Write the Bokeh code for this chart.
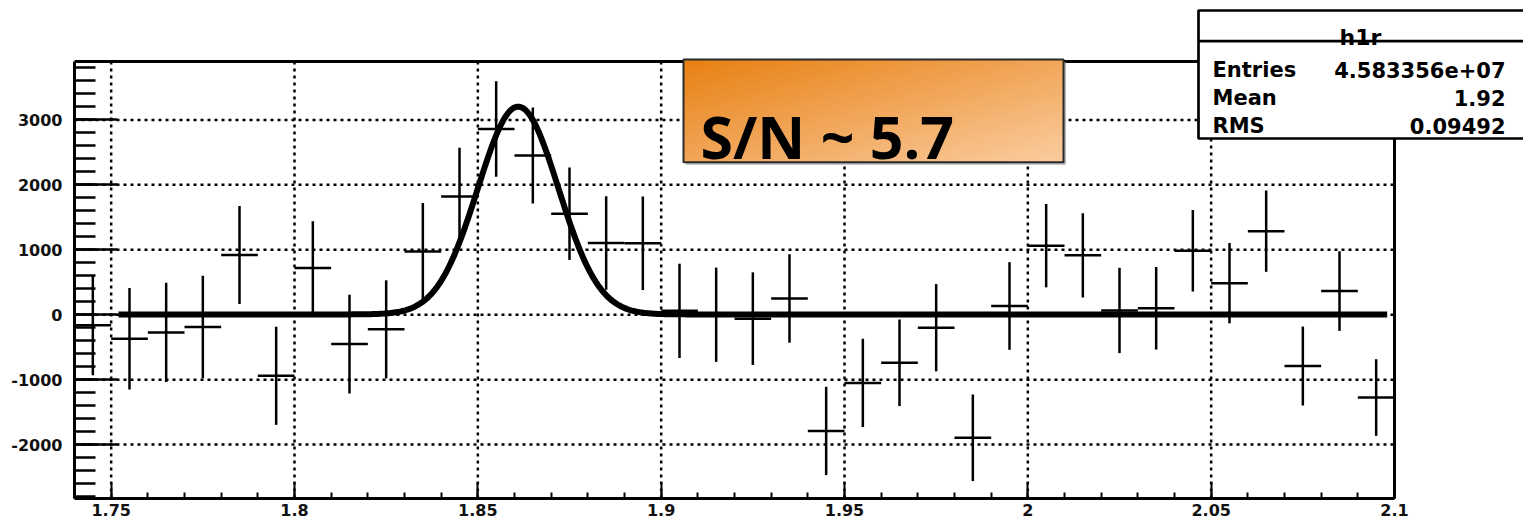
import numpy as np
from bokeh.plotting import figure
from bokeh.models import Range1d, LinearAxis, FixedTicker, ColumnDataSource
from bokeh.core.properties import value
from bokeh.embed import file_html
from bokeh.resources import INLINE

# ---------------- data ----------------
bin_centers = [1.745, 1.755, 1.765, 1.775, 1.785, 1.795, 1.805, 1.815, 1.825, 1.835,
               1.845, 1.855, 1.865, 1.875, 1.885, 1.895, 1.905, 1.915, 1.925, 1.935,
               1.945, 1.955, 1.965, 1.975, 1.985, 1.995, 2.005, 2.015, 2.025, 2.035,
               2.045, 2.055, 2.065, 2.075, 2.085, 2.095]
counts = [-160, -370, -272, -190, 920, -940, 720, -452, -225, 975,
          1820, 2860, 2453, 1556, 1105, 1100, 60, 0, -60, 250,
          -1790, -1050, -740, -200, -1895, 135, 1063, 915, 66, 100,
          985, 485, 1287, -790, 365, -1275]
errors = [770, 780, 765, 790, 756, 756, 720, 761, 755, 745,
          750, 735, 738, 712, 720, 720, 726, 726, 713, 680,
          680, 680, 667, 672, 667, 675, 641, 649, 657, 636,
          628, 618, 626, 608, 613, 590]
bin_width = 0.01

# Gaussian + constant fit drawn in the reference
fit_amplitude = 3200.0
fit_mean = 1.861
fit_sigma = 0.0110
fit_constant = 5.0
fit_range = [1.752, 2.098]

x_major_ticks = [1.75, 1.8, 1.85, 1.9, 1.95, 2.0, 2.05, 2.1]
x_tick_labels = ["1.75", "1.8", "1.85", "1.9", "1.95", "2", "2.05", "2.1"]
y_major_ticks = [-2000, -1000, 0, 1000, 2000, 3000]
y_tick_labels = ["-2000", "-1000", "0", "1000", "2000", "3000"]

stats_title = "h1r"
stats_names = ["Entries", "Mean", "RMS"]
stats_values = ["4.583356e+07", "1.92", "0.09492"]
annotation_text = "S/N ~ 5.7"

# ---------------- layout ----------------
OFF = 0                      # canvas origin on the page
W, H = 1523, 525
XMIN, XMAX, YMIN, YMAX = 1.74, 2.1, -2830.0, 3900.0
FL, FR, FT, FB = 74.0, 1394.0, 61.0, 498.0   # frame position on the page (px)
SX = (FR - FL) / (XMAX - XMIN)
SY = (FB - FT) / (YMAX - YMIN)


def dx(px):
    return XMIN + (px - FL) / SX


def dy(py):
    return YMAX - (py - FT) / SY


p = figure(width=W, height=H, x_range=Range1d(dx(OFF), dx(OFF + W)),
           y_range=Range1d(dy(OFF + H), dy(OFF)), output_backend="svg",
           toolbar_location=None, x_axis_location=None, y_axis_location=None,
           min_border=0, outline_line_color=None,
           background_fill_color="white", border_fill_color="white")
p.grid.visible = False

# axes
x_minor = [round(1.74 + 0.01 * i, 2) for i in range(37)]
y_minor = list(range(-2800, 3801, 200))

xaxis = LinearAxis(fixed_location=YMIN, bounds=(XMIN, XMAX),
                   ticker=FixedTicker(ticks=x_major_ticks, minor_ticks=x_minor),
                   major_label_overrides={t: l for t, l in zip(x_major_ticks, x_tick_labels)},
                   major_tick_in=16, major_tick_out=0, minor_tick_in=6, minor_tick_out=0,
                   major_tick_line_width=2, minor_tick_line_width=2,
                   axis_line_width=3, major_label_standoff=5,
                   major_label_text_font="DejaVu Sans", major_label_text_font_size="16px",
                   major_label_text_font_style="bold", major_label_text_color="#111111")
p.add_layout(xaxis, "below")

yaxis = LinearAxis(fixed_location=XMIN, bounds=(YMIN, YMAX),
                   ticker=FixedTicker(ticks=y_major_ticks, minor_ticks=y_minor),
                   major_label_overrides={t: l for t, l in zip(y_major_ticks, y_tick_labels)},
                   major_tick_in=43, major_tick_out=0, minor_tick_in=21, minor_tick_out=0,
                   major_tick_line_width=2.5, minor_tick_line_width=2.5,
                   axis_line_width=3, major_label_standoff=12,
                   major_label_text_font="DejaVu Sans", major_label_text_font_size="16px",
                   major_label_text_font_style="bold", major_label_text_color="#111111")
p.add_layout(yaxis, "left")

# dotted grid
gx = x_major_ticks[:-1]
p.segment(x0=gx, y0=[YMIN] * len(gx), x1=gx, y1=[YMAX] * len(gx),
          line_color="black", line_width=2.5, line_dash="3 4")
p.segment(x0=[XMIN] * len(y_major_ticks), y0=y_major_ticks,
          x1=[XMAX] * len(y_major_ticks), y1=y_major_ticks,
          line_color="black", line_width=2.5, line_dash="3 4")

# frame top / right
p.segment(x0=[XMIN, XMAX], y0=[YMAX, YMIN], x1=[XMAX, XMAX], y1=[YMAX, YMAX],
          line_color="black", line_width=3)

# error-bar crosses
c = np.array(bin_centers)
v = np.array(counts, dtype=float)
e = np.array(errors, dtype=float)
src = ColumnDataSource(dict(x=c, lo=v - e, hi=v + e, y=v,
                            xl=c - bin_width / 2, xr=c + bin_width / 2))
p.segment(x0="x", y0="lo", x1="x", y1="hi", source=src, line_color="black", line_width=2.5)
p.segment(x0="xl", y0="y", x1="xr", y1="y", source=src, line_color="black", line_width=2.5)

# fit curve
fx = np.linspace(fit_range[0], fit_range[1], 700)
fy = fit_constant + fit_amplitude * np.exp(-0.5 * ((fx - fit_mean) / fit_sigma) ** 2)
p.line(fx, fy, line_color="black", line_width=6, line_join="round")

# S/N annotation box with diagonal orange gradient
bl, br, bt, bb = 683.0, 1063.0, 59.0, 161.7
p.quad(left=[dx(bl + 2.5)], right=[dx(br + 2.5)], top=[dy(bt + 2.5)], bottom=[dy(bb + 2.5)],
       fill_color="#9a9a9a", fill_alpha=0.7, line_color=None)
nc, nr = int(br - bl), int(bb - bt)
u = np.linspace(0, 1, nc)[None, :]
vt = np.linspace(1, 0, nr)[:, None]          # row 0 is the bottom row
t = (u + vt) / 2.0
c0 = np.array([232, 128, 18], dtype=float)
c1 = np.array([251, 205, 160], dtype=float)
img = np.empty((nr, nc), dtype=np.uint32)
view = img.view(dtype=np.uint8).reshape((nr, nc, 4))
for k in range(3):
    view[:, :, k] = np.clip(c0[k] + (c1[k] - c0[k]) * t, 0, 255).astype(np.uint8)
view[:, :, 3] = 255
p.image_rgba(image=[img], x=dx(bl), y=dy(bb), dw=(br - bl) / SX, dh=(bb - bt) / SY)
p.quad(left=[dx(bl)], right=[dx(br)], top=[dy(bt)], bottom=[dy(bb)],
       fill_color=None, line_color="#2a2a2a", line_width=2)
p.text(x=[dx(700)], y=[dy(135)], text=[annotation_text], text_font=value("Open Sans"),
       text_font_style="bold", text_font_size="59px", text_color="black",
       text_align="left", text_baseline="alphabetic")

# statistics box
sl, sr, st, sb = 1198.0, 1535.0, 10.0, 138.0
p.quad(left=[dx(sl)], right=[dx(sr)], top=[dy(st)], bottom=[dy(sb)],
       fill_color="white", line_color="black", line_width=2.7)
p.segment(x0=[dx(sl)], y0=[dy(40.7)], x1=[dx(sr)], y1=[dy(40.7)],
          line_color="black", line_width=2.7)
p.text(x=[dx(1360)], y=[dy(37)], text=[stats_title], text_font=value("DejaVu Sans"),
       text_font_style="bold", text_font_size="22px", text_color="black",
       text_align="center", text_baseline="alphabetic")
rows_y = [dy(69), dy(97), dy(125)]
p.text(x=[dx(1212)] * 3, y=rows_y, text=stats_names, text_font=value("DejaVu Sans"),
       text_font_style="bold", text_font_size="21px", text_color="black",
       text_align="left", text_baseline="alphabetic")
p.text(x=[dx(1505)] * 3, y=rows_y, text=stats_values, text_font=value("DejaVu Sans"),
       text_font_style="bold", text_font_size="21px", text_color="black",
       text_align="right", text_baseline="alphabetic")

open("out.html", "w").write(file_html(p, INLINE))
